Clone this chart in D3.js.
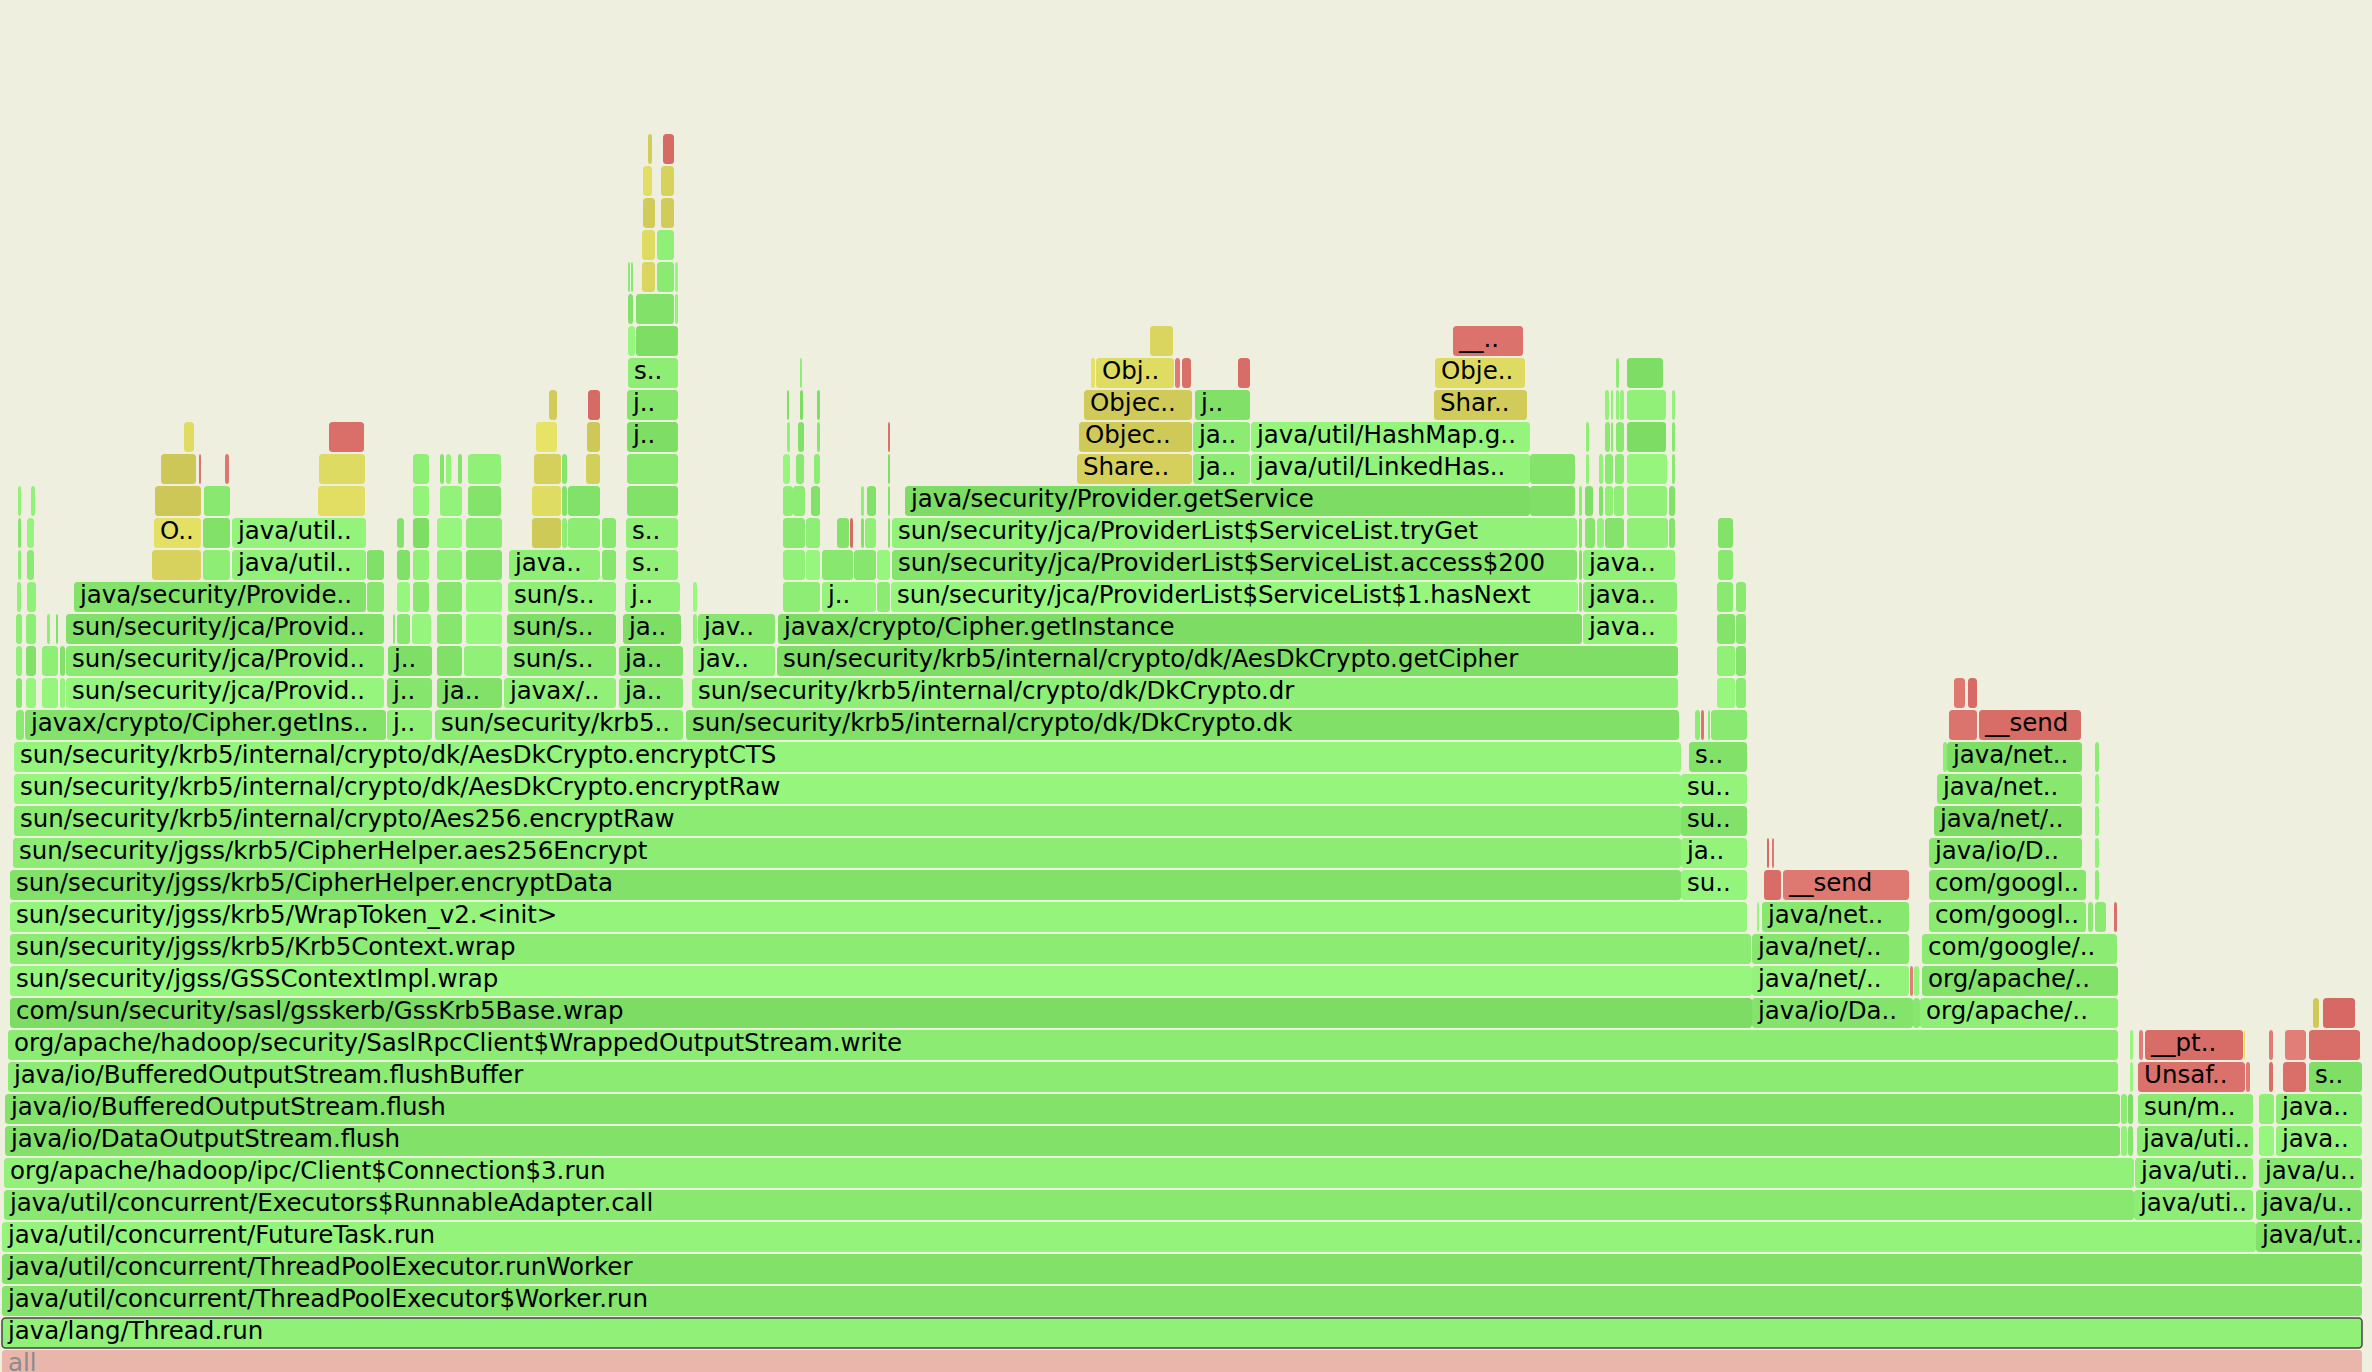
<!DOCTYPE html>
<html>
<head>
<meta charset="utf-8">
<script src="https://cdn.jsdelivr.net/npm/d3@7"></script>
<style>
  html, body { margin: 0; padding: 0; background: rgb(239, 239, 224); }
  svg { display: block; }
  .frame text { font-family: Verdana, "DejaVu Sans", sans-serif; font-size: 24.5px; fill: #000; pointer-events: none; }
</style>
</head>
<body>
<svg id="chart" width="2372" height="1372"></svg>
<script>
// Flame graph: one frame = label, samples, leading untracked samples, children
const G = (label, w, pre = 0, kids = []) => ({ label, w, pre, kids, kind: "g" });
const Y = (label, w, pre = 0, kids = []) => ({ label, w, pre, kids, kind: "y" });
const R = (label, w, pre = 0, kids = []) => ({ label, w, pre, kids, kind: "r" });

const SELECTED = "java/lang/Thread.run";

// thin stack at the far left of encryptCTS
const leftSliverStack = G("", 8, 2, [G("", 6, 0, [G("", 6, 0, [G("", 6, 0, [G("", 4, 1, [G("", 3, 1, [G("", 3, 0, [G("", 3, 0)])])])])])])]);

const providerLookupStack = G("javax/crypto/Cipher.getIns..", 361, 1, [
  G("", 10, 1, [G("", 10, 0, [G("", 10, 0, [G("", 9, 1, [G("", 7, 0, [G("", 7, 0, [G("", 4, 4)])])])])])]),
  G("", 16, 6, [G("", 16, 0, [G("", 3, 5), G("", 2, 6)])]),
  G("", 5, 2, [G("", 5)]),
  G("sun/security/jca/Provid..", 318, 1, [
    G("sun/security/jca/Provid..", 318, 0, [
      G("sun/security/jca/Provid..", 318, 0, [
        G("java/security/Provide..", 292, 8, [
          Y("", 49, 78, [Y("O..", 47, 2, [Y("", 46, 1, [Y("", 35, 6, [Y("", 10, 23)]), R("", 2, 3)])])]),
          G("", 27, 2, [G("", 27, 0, [G("", 26, 1, [R("", 4, 21)])])]),
          G("java/util..", 134, 2, [G("java/util..", 134, 0, [Y("", 47, 86, [Y("", 46, 1, [R("", 35, 10)])])])])
        ]),
        G("", 17, 1, [G("", 17)])
      ])
    ])
  ])
]);

const jceColumn = G("j..", 45, 1, [G("j..", 45, 0, [G("j..", 44, 1, [
  G("", 2, 5),
  G("", 13, 2, [G("", 13, 0, [G("", 13, 0, [G("", 7, 0)])])]),
  G("", 19, 2, [G("", 16, 1, [G("", 16, 0, [G("", 16, 0, [G("", 16, 0, [G("", 16, 0)])])])])])
])])]);

const krb5KeyStack = G("sun/security/krb5..", 248, 3, [
  G("ja..", 65, 2, [
    G("", 25, 0, [G("", 25, 0, [G("", 25, 0, [G("", 25, 0, [G("", 25, 0, [G("", 22, 3, [G("", 4, 0), G("", 5, 2), G("", 4, 7)])])])])])]),
    G("", 38, 2, [G("", 36, 2, [G("", 36, 0, [G("", 36, 0, [G("", 36, 0, [G("", 33, 2, [G("", 33, 0)])])])])])])
  ]),
  G("javax/..", 112, 2, [G("sun/s..", 109, 3, [G("sun/s..", 109, 0, [G("sun/s..", 108, 1, [
    G("java..", 91, 1, [
      Y("", 29, 23, [Y("", 29, 0, [Y("", 27, 2, [Y("", 21, 2, [Y("", 8, 13)])])])]),
      G("", 5, 1, [G("", 5, 0, [G("", 5, 0)])]),
      G("", 32, 1, [G("", 32, 0, [Y("", 14, 18, [Y("", 13, 1, [R("", 12, 1)])])])])
    ]),
    G("", 14, 2, [G("", 14, 0)])
  ])])])]),
  G("ja..", 64, 3, [G("ja..", 64, 0, [G("ja..", 58, 4, [G("j..", 55, 2, [G("s..", 52, 1, [G("s..", 52, 0, [
    G("", 51, 1, [G("", 51, 0, [G("j..", 51, 0, [G("j..", 51, 0, [G("s..", 50, 1, [
      G("", 7, 0, [G("", 5, 0, [G("", 2, 0), G("", 2, 1)])]),
      G("", 42, 1, [
        G("", 38, 0, [
          Y("", 13, 6, [Y("", 13, 0, [Y("", 12, 1, [Y("", 9, 0, [Y("", 4, 5)])])])]),
          G("", 17, 2, [G("", 17, 0, [Y("", 13, 4, [Y("", 13, 0, [R("", 11, 2)])])])])
        ]),
        G("", 3, 1, [G("", 3, 0)])
      ])
    ])])])])])
  ])])])])])])
]);

const providerScanStack = G("", 37, 5, [
  G("", 22, 0, [G("", 22, 0, [
    G("", 10, 0, [G("", 7, 0, [G("", 3, 4, [G("", 2, 0)])])]),
    G("", 12, 0, [G("", 8, 3, [G("", 6, 2, [G("", 3, 2, [G("", 2, 0)])])])])
  ])]),
  G("", 14, 1, [G("", 14, 0, [G("", 9, 5, [G("", 6, 3, [G("", 3, 3, [G("", 3, 0)])])])])])
]);

const jcaIteratorStack = G("j..", 54, 2, [
  G("", 31, 0, [G("", 12, 15), R("", 3, 1)]),
  G("", 22, 1, [G("", 3, 7, [G("", 3, 0)]), G("", 11, 1, [G("", 9, 2)])])
]);

const serviceSliverStack = G("", 13, 1, [G("", 13, 0, [G("", 2, 11, [G("", 2, 0, [G("", 2, 0, [R("", 2, 0)])])])])]);

const getServiceStack = G("java/security/Provider.getService", 625, 13, [
  Y("Share..", 115, 172, [Y("Objec..", 113, 2, [Y("Objec..", 108, 5, [
    Y("", 4, 7), Y("Obj..", 78, 1, [Y("", 23, 54)]), R("", 5, 1), R("", 9, 2)
  ])])]),
  G("ja..", 57, 1, [G("ja..", 57, 0, [G("j..", 55, 2, [R("", 12, 43)])])]),
  G("java/util/LinkedHas..", 279, 1, [G("java/util/HashMap.g..", 279, 0, [Y("Shar..", 93, 183, [Y("Obje..", 90, 1, [R("__..", 70, 18)])])])])
]);

const hasNextStack = G("sun/security/jca/ProviderList$ServiceList$1.hasNext", 687, 1, [
  G("sun/security/jca/ProviderList$ServiceList.access$200", 685, 1, [
    G("sun/security/jca/ProviderList$ServiceList.tryGet", 685, 0, [getServiceStack, G("", 45, 0, [G("", 45, 0)])])
  ])
]);

const cipherInstanceStack = G("javax/crypto/Cipher.getInstance", 804, 1, [
  providerScanStack, jcaIteratorStack, serviceSliverStack, hasNextStack,
  G("", 3, 1, [G("", 3, 0, [G("", 3, 0, [G("", 3, 0)])])])
]);

const providerAliasStack = G("java..", 94, 1, [G("java..", 94, 0, [G("java..", 92, 0, [
  G("", 10, 2, [G("", 8, 0, [G("", 3, 1, [G("", 3, 0)])])]),
  G("", 7, 2, [G("", 4, 2, [G("", 4, 0)])]),
  G("", 19, 1, [
    G("", 8, 0, [G("", 8, 0, [G("", 5, 0, [G("", 4, 0)]), G("", 2, 1, [G("", 2, 0)])])]),
    G("", 10, 1, [G("", 9, 1, [G("", 8, 1, [G("", 3, 0, [G("", 3, 0)]), G("", 4, 1)])])])
  ]),
  G("", 41, 3, [G("", 40, 0, [G("", 40, 0, [G("", 39, 0, [G("", 39, 0, [G("", 36, 0)])])])])]),
  G("", 6, 1, [G("", 6, 0, [G("", 3, 3, [G("", 3, 0, [G("", 3, 0)])])])])
])])]);

const dkDeriveStack = G("sun/security/krb5/internal/crypto/dk/DkCrypto.dk", 993, 3, [
  G("sun/security/krb5/internal/crypto/dk/DkCrypto.dr", 986, 6, [
    G("jav..", 82, 1, [G("", 4, 0, [G("", 4, 0)]), G("jav..", 77, 1)]),
    G("sun/security/krb5/internal/crypto/dk/AesDkCrypto.getCipher", 901, 2, [cipherInstanceStack, providerAliasStack])
  ])
]);

const checksumStack = G("su..", 66, 0, [G("ja..", 66, 0, [G("su..", 66, 0, [G("su..", 66, 0, [G("s..", 58, 8, [
  G("", 5, 6), R("", 3, 1), G("", 2, 4),
  G("", 36, 1, [
    G("", 18, 6, [G("", 18, 0, [G("", 18, 0, [G("", 16, 0, [G("", 15, 1, [G("", 15, 0)])])])])]),
    G("", 10, 1, [G("", 10, 0, [G("", 10, 0, [G("", 10, 0)])])])
  ])
])])])])]);

const encryptCtsStack = G("sun/security/krb5/internal/crypto/dk/AesDkCrypto.encryptCTS", 1667, 0,
  [leftSliverStack, providerLookupStack, jceColumn, krb5KeyStack, dkDeriveStack]);

const gssWrapStack = G("com/sun/security/sasl/gsskerb/GssKrb5Base.wrap", 1742, 2, [
  G("sun/security/jgss/GSSContextImpl.wrap", 1742, 0, [
    G("sun/security/jgss/krb5/Krb5Context.wrap", 1741, 0, [
      G("sun/security/jgss/krb5/WrapToken_v2.<init>", 1737, 0, [
        G("sun/security/jgss/krb5/CipherHelper.encryptData", 1671, 0, [
          G("sun/security/jgss/krb5/CipherHelper.aes256Encrypt", 1668, 3, [
            G("sun/security/krb5/internal/crypto/Aes256.encryptRaw", 1667, 1, [
              G("sun/security/krb5/internal/crypto/dk/AesDkCrypto.encryptRaw", 1667, 0, [encryptCtsStack])
            ])
          ])
        ]),
        checksumStack
      ])
    ])
  ])
]);

const socketWriteStack = G("java/io/Da..", 161, 0, [
  G("java/net/..", 157, 0, [G("java/net/..", 157, 0, [G("", 2, 5), G("java/net..", 147, 3, [
    R("", 17, 2, [R("", 2, 3), R("", 2, 3)]),
    R("__send", 126, 2)
  ])])]),
  R("", 3, 1)
]);

const protobufRpcStack = G("org/apache/..", 198, 0, [G("org/apache/..", 196, 2, [G("com/google/..", 195, 0, [
  G("com/googl..", 157, 7, [G("com/googl..", 157, 0, [G("java/io/D..", 153, 0, [G("java/net/..", 148, 5, [G("java/net..", 145, 3, [
    G("", 4, 6),
    G("java/net..", 135, 0, [R("", 28, 2, [R("", 11, 5), R("", 9, 3)]), R("__send", 102, 2)])
  ])])])])]),
  G("", 5, 2),
  G("", 11, 2, [G("", 4, 0, [G("", 4, 0, [G("", 4, 0, [G("", 4, 0, [G("", 4, 0)])])])])]),
  R("", 3, 8)
])])]);

const connectionStack = G("org/apache/hadoop/ipc/Client$Connection$3.run", 2130, 0, [
  G("java/io/DataOutputStream.flush", 2115, 1, [
    G("java/io/BufferedOutputStream.flush", 2115, 0, [
      G("java/io/BufferedOutputStream.flushBuffer", 2110, 3, [
        G("org/apache/hadoop/security/SaslRpcClient$WrappedOutputStream.write", 2110, 0, [
          gssWrapStack, socketWriteStack, G("", 7, 0, [G("", 5, 1)]), protobufRpcStack
        ])
      ])
    ])
  ]),
  G("", 6, 1, [G("", 6, 0)]),
  G("", 5, 1, [G("", 5, 0, [G("", 3, 2, [G("", 3, 0)])])])
]);

const parkStack = G("java/uti..", 119, 0, [G("java/uti..", 118, 1, [G("java/uti..", 116, 2, [G("sun/m..", 115, 1, [
  R("Unsaf..", 107, 0, [R("", 4, 1), R("__pt..", 98, 2), Y("", 1, 1)]),
  R("", 4, 1)
])])])]);

const workerQueueStack = G("java/ut..", 106, 0, [G("java/u..", 106, 0, [G("java/u..", 103, 3, [
  G("", 15, 0, [G("", 15, 0, [R("", 4, 10, [R("", 4, 0)])])]),
  G("java..", 86, 2, [G("java..", 86, 0, [
    R("", 23, 7, [R("", 21, 2)]),
    G("s..", 53, 3, [R("", 51, 0, [Y("", 6, 4), R("", 32, 4)])])
  ])])
])])]);

const rootFrame = G("all", 2360, 0, [G("java/lang/Thread.run", 2360, 0, [
  G("java/util/concurrent/ThreadPoolExecutor$Worker.run", 2360, 0, [
    G("java/util/concurrent/ThreadPoolExecutor.runWorker", 2360, 0, [
      G("java/util/concurrent/FutureTask.run", 2254, 0, [
        G("java/util/concurrent/Executors$RunnableAdapter.call", 2130, 2, [connectionStack]),
        parkStack
      ]),
      workerQueueStack
    ])
  ])
])]);
rootFrame.kind = "all";

// ---- layout ----
const ROW = 32, FRAME_H = 30;

function kidsWithGaps(d) {
  if (d.gap || !d.kids.length) return null;
  const out = [];
  d.kids.forEach(k => {
    if (k.pre) out.push({ gap: true, w: k.pre });
    out.push(k);
  });
  return out;
}

const root = d3.hierarchy(rootFrame, kidsWithGaps)
  .sum(d => d.gap ? d.w : d.w - d3.sum(d.kids, k => k.w + k.pre));
d3.partition().size([root.value, 1])(root);

const x = d3.scaleLinear().domain([0, root.value]).range([2, 2362]);
const y = d3.scaleLinear().domain([0, 1]).range([1350, 1350 - ROW]);

function hash(s) {
  let h = 2166136261;
  for (let i = 0; i < s.length; i++) {
    h ^= s.charCodeAt(i);
    h = Math.imul(h, 16777619);
  }
  return (h >>> 0) / 4294967295;
}

const PALETTE = {
  g: v => [124 + 28 * v, 220 + 27 * v, 100 + 26 * v],
  y: v => [203 + 27 * v, 198 + 29 * v, 86 + 16 * v],
  r: v => [212 + 14 * v, 100 + 28 * v, 95 + 26 * v],
  all: () => [234, 181, 170]
};

function frameColor(n) {
  const v = hash(`${n.data.label}|${n.depth}|${Math.round(n.x0)}`);
  const c = PALETTE[n.data.kind](v).map(Math.round);
  return `rgb(${c[0]},${c[1]},${c[2]})`;
}

const nodes = root.descendants().filter(n => !n.data.gap);

const svg = d3.select("#chart");

const frames = svg.append("g")
  .selectAll("g.frame")
  .data(nodes)
  .join("g")
  .attr("class", "frame");

frames.append("rect")
  .attr("x", d => x(d.x0))
  .attr("y", d => y(d.depth))
  .attr("width", d => Math.max(0.5, x(d.x1) - x(d.x0)))
  .attr("height", FRAME_H)
  .attr("rx", 3.5)
  .attr("ry", 3.5)
  .attr("fill", frameColor)
  .attr("stroke", d => d.data.label === SELECTED ? "rgb(70,70,70)" : null)
  .attr("stroke-width", d => d.data.label === SELECTED ? 1.5 : null);

frames.filter(d => d.data.label)
  .append("text")
  .attr("x", d => x(d.x0) + 6)
  .attr("y", d => y(d.depth) + 21)
  .style("fill", d => d.data.kind === "all" ? "rgb(140,140,140)" : null)
  .text(d => d.data.label);
</script>
</body>
</html>
